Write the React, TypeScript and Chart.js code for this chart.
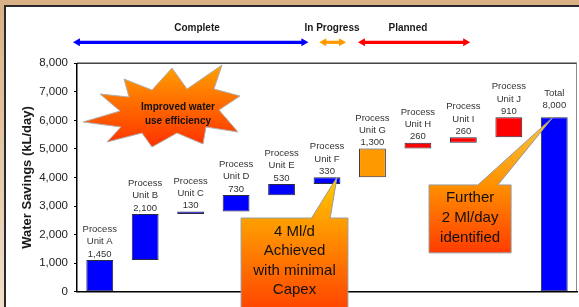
import React, { useEffect, useRef } from 'react';
import { Chart, registerables } from 'chart.js';

Chart.register(...registerables);

// ---------- data ----------
const categories = [
  'Process Unit A', 'Process Unit B', 'Process Unit C', 'Process Unit D', 'Process Unit E',
  'Process Unit F', 'Process Unit G', 'Process Unit H', 'Process Unit I', 'Process Unit J', 'Total',
];
const labelLines = [
  ['Process', 'Unit A'], ['Process', 'Unit B'], ['Process', 'Unit C'], ['Process', 'Unit D'],
  ['Process', 'Unit E'], ['Process', 'Unit F'], ['Process', 'Unit G'], ['Process', 'Unit H'],
  ['Process', 'Unit I'], ['Process', 'Unit J'], ['Total'],
];
const valueLabels = ['1,450', '2,100', '130', '730', '530', '330', '1,300', '260', '260', '910', '8,000'];
const barStart = [0, 1110, 2720, 2810, 3380, 3770, 4010, 5020, 5220, 5410, 0];
const barEnd = [1110, 2720, 2810, 3390, 3770, 4010, 5020, 5220, 5410, 6110, 6110];
const barColors = ['#0000ff', '#0000ff', '#0000ff', '#0000ff', '#0000ff', '#0000ff', '#ff9900', '#ff0000', '#ff0000', '#ff0000', '#0000ff'];

const yMin = 0;
const yMax = 8000;
const yStep = 1000;
const yTitle = 'Water Savings (kL/day)';

// phase headers (positions in category-index units)
const phaseNames = ['Complete', 'In Progress', 'Planned'];
const phaseFrom = [-0.59, 4.83, 5.68];
const phaseTo = [4.59, 5.42, 8.15];
const phaseLabelAt = [2.14, 5.11, 6.78];
const phaseColors = ['#0000ff', '#ff9900', '#ff0000'];

// callouts
const callout1Lines = ['4 Ml/d', 'Achieved', 'with minimal', 'Capex'];
const callout2Lines = ['Further', '2 Ml/day', 'identified'];
const burstLines = ['Improved water', 'use efficiency'];

const FONT = '"Liberation Sans", Arial, Helvetica, sans-serif';

function drawCallout(
  ctx: CanvasRenderingContext2D, chart: any,
  box: [number, number, number, number],
  base: [number, number], tip: [number, number], lines: string[],
  stops: [number, string][], firstOffset: number, gap: number,
) {
  const xs = chart.scales.x;
  const ys = chart.scales.y;
  const x1 = xs.getPixelForValue(box[0]);
  const x2 = xs.getPixelForValue(box[1]);
  const y1 = ys.getPixelForValue(box[2]);
  const y2 = ys.getPixelForValue(box[3]);
  const b1 = xs.getPixelForValue(base[0]);
  const b2 = xs.getPixelForValue(base[1]);
  const tx = xs.getPixelForValue(tip[0]);
  const ty = ys.getPixelForValue(tip[1]);
  const g = ctx.createLinearGradient(0, ty, 0, Math.min(y2, 310));
  stops.forEach(([p, c]) => g.addColorStop(p, c));
  ctx.beginPath();
  ctx.moveTo(x1, y1);
  ctx.lineTo(b1, y1);
  ctx.lineTo(tx, ty);
  ctx.lineTo(b2, y1);
  ctx.lineTo(x2, y1);
  ctx.lineTo(x2, y2);
  ctx.lineTo(x1, y2);
  ctx.closePath();
  ctx.fillStyle = g;
  ctx.fill();
  ctx.strokeStyle = '#9a9a9a';
  ctx.lineWidth = 1;
  ctx.stroke();
  ctx.fillStyle = '#111';
  ctx.font = `15px ${FONT}`;
  ctx.textAlign = 'center';
  ctx.textBaseline = 'middle';
  const cx = (x1 + x2) / 2;
  lines.forEach((l, i) => ctx.fillText(l, cx, y1 + firstOffset + i * gap));
}

const decorPlugin = {
  id: 'decor',
  beforeDraw(chart: any) {
    const { ctx, width, height, chartArea } = chart;
    ctx.save();
    const bg = ctx.createLinearGradient(0, 0, 0, height);
    bg.addColorStop(0, '#d8b185');
    bg.addColorStop(1, '#f0dfca');
    ctx.fillStyle = bg;
    ctx.fillRect(0, 0, width, height);
    ctx.fillStyle = '#ffffff';
    ctx.fillRect(5, 6.5, width, height);
    ctx.strokeStyle = '#2a2a2a';
    ctx.lineWidth = 2;
    ctx.beginPath();
    ctx.moveTo(5, height + 4);
    ctx.lineTo(5, 6);
    ctx.lineTo(width + 4, 6);
    ctx.stroke();
    ctx.lineWidth = 1.5;
    ctx.strokeStyle = '#444';
    ctx.beginPath();
    ctx.moveTo(chartArea.left, chartArea.top);
    ctx.lineTo(chartArea.right, chartArea.top);
    ctx.stroke();
    ctx.lineWidth = 1;
    ctx.strokeStyle = '#8a8a8a';
    ctx.beginPath();
    ctx.moveTo(chartArea.right - 0.5, chartArea.top);
    ctx.lineTo(chartArea.right - 0.5, chartArea.bottom);
    ctx.stroke();
    ctx.restore();
  },
  afterDatasetsDraw(chart: any) {
    const { ctx } = chart;
    const xs = chart.scales.x;
    const meta = chart.getDatasetMeta(0);
    ctx.save();
    ctx.font = `9.5px ${FONT}`;
    ctx.fillStyle = '#333';
    ctx.textAlign = 'center';
    ctx.textBaseline = 'middle';
    meta.data.forEach((el: any, i: number) => {
      const top = Math.min(el.y, el.base);
      const lift = i === meta.data.length - 1 ? 11.6 : 6;
      const vy = top - lift;
      ctx.fillText(valueLabels[i], el.x, vy);
      const lines = labelLines[i];
      lines.forEach((l, j) => {
        ctx.fillText(l, el.x, vy - (lines.length - j) * 12.2);
      });
    });

    phaseNames.forEach((name, i) => {
      const xa = xs.getPixelForValue(phaseFrom[i]);
      const xb = xs.getPixelForValue(phaseTo[i]);
      const xl = xs.getPixelForValue(phaseLabelAt[i]);
      ctx.font = `bold 10px ${FONT}`;
      ctx.fillStyle = '#1a1a1a';
      ctx.fillText(name, xl, 28.5);
      const y = 42.3;
      ctx.strokeStyle = phaseColors[i];
      ctx.fillStyle = phaseColors[i];
      ctx.lineWidth = 3.2;
      ctx.beginPath();
      ctx.moveTo(xa + 4, y);
      ctx.lineTo(xb - 4, y);
      ctx.stroke();
      ctx.beginPath();
      ctx.moveTo(xa, y);
      ctx.lineTo(xa + 7, y - 4);
      ctx.lineTo(xa + 7, y + 4);
      ctx.closePath();
      ctx.fill();
      ctx.beginPath();
      ctx.moveTo(xb, y);
      ctx.lineTo(xb - 7, y - 4);
      ctx.lineTo(xb - 7, y + 4);
      ctx.closePath();
      ctx.fill();
    });

    const pts: [number, number][] = [
      [83, 122], [120, 111], [100, 94], [129, 97], [124, 79], [152, 90], [172, 68],
      [187, 89], [222, 65], [214, 89], [240, 96], [219, 110], [238, 132], [206, 127],
      [203, 144], [177, 133], [152, 147], [142, 133], [107, 142], [121, 127],
    ];
    const sg = ctx.createLinearGradient(0, 66, 0, 146);
    sg.addColorStop(0, '#ff9f00');
    sg.addColorStop(1, '#ff3300');
    ctx.beginPath();
    pts.forEach(([px, py], i) => (i === 0 ? ctx.moveTo(px, py) : ctx.lineTo(px, py)));
    ctx.closePath();
    ctx.fillStyle = sg;
    ctx.fill();
    ctx.strokeStyle = '#b0b0b0';
    ctx.lineWidth = 1;
    ctx.stroke();
    ctx.fillStyle = '#111';
    ctx.font = `bold 10px ${FONT}`;
    ctx.fillText(burstLines[0], 178, 107.5);
    ctx.fillText(burstLines[1], 178, 121);
    ctx.restore();
  },
  afterDraw(chart: any) {
    const { ctx } = chart;
    ctx.save();
    drawCallout(ctx, chart, [3.11, 5.46, 2580, -1000], [4.66, 5.07], [5.22, barEnd[5]], callout1Lines,
      [[0, '#ffd000'], [0.25, '#ffa800'], [1, '#ff4400']], 13.7, 19.5);
    drawCallout(ctx, chart, [7.245, 9.05, 3740, 1360], [8.32, 8.76], [9.97, barEnd[10]], callout2Lines,
      [[0, '#f7c840'], [0.5, '#ff9000'], [1, '#ff3c00']], 13.3, 20);
    ctx.restore();
  },
};

export default function App() {
  const ref = useRef<HTMLCanvasElement | null>(null);
  useEffect(() => {
    if (!ref.current) return;
    const chart = new Chart(ref.current, {
      type: 'bar',
      data: {
        labels: categories,
        datasets: [{
          data: barStart.map((s, i) => [s, barEnd[i]]) as any,
          backgroundColor: barColors,
          borderColor: '#2b2b40',
          borderWidth: 1,
          borderSkipped: false,
          barPercentage: 0.59,
          categoryPercentage: 1,
        }],
      },
      options: {
        responsive: false,
        animation: false,
        events: [],
        layout: { padding: { left: 0, right: 2, top: 63.3, bottom: 15.3 } },
        plugins: { legend: { display: false }, tooltip: { enabled: false }, title: { display: false } },
        scales: {
          x: {
            grid: { display: false, drawTicks: false },
            ticks: { display: false },
            border: { display: true, color: '#000', width: 1.5 },
            afterFit: (s: any) => { s.height = 0; },
          },
          y: {
            min: yMin,
            max: yMax,
            grid: { drawOnChartArea: false, drawTicks: true, tickLength: 3, color: '#000' },
            border: { display: true, color: '#000', width: 1.5 },
            ticks: {
              stepSize: yStep,
              padding: 6,
              color: '#222',
              font: { family: FONT, size: 11.5 },
              callback: (v: any) => Number(v).toLocaleString('en-US'),
            },
            title: {
              display: true,
              text: yTitle,
              color: '#1a1a1a',
              font: { family: FONT, size: 13, weight: 'bold' },
              padding: { top: 20, bottom: 0 },
            },
            afterFit: (s: any) => { s.width = 77; },
          },
        },
      },
      plugins: [decorPlugin],
    });
    return () => chart.destroy();
  }, []);
  return (
    <div style={{ position: 'fixed', left: 0, top: 0, width: 579, height: 307, overflow: 'hidden' }}>
      <canvas ref={ref} width={579} height={307} style={{ display: 'block' }} />
    </div>
  );
}
